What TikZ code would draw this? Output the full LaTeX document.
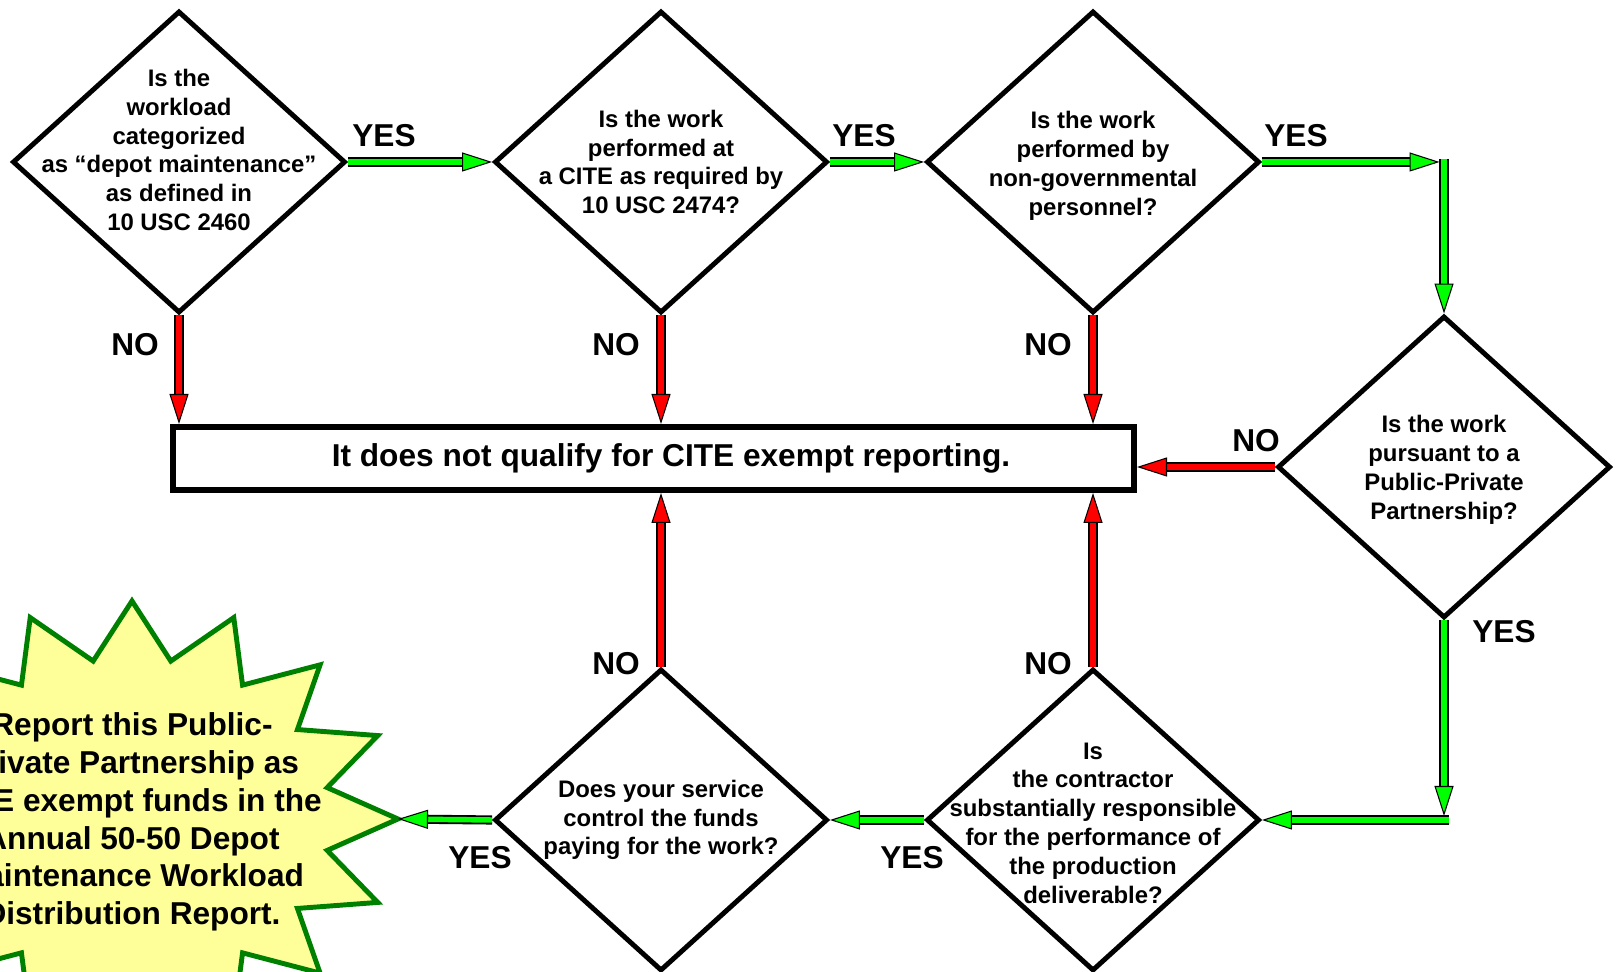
\documentclass[tikz,border=0pt]{standalone}
\usepackage{fontspec}
\setmainfont{Liberation Sans}
\usetikzlibrary{arrows.meta,positioning,shapes.geometric}
\definecolor{yesGreen}{RGB}{0,255,0}
\definecolor{noRed}{RGB}{255,0,0}
\definecolor{burstFill}{RGB}{255,255,153}
\definecolor{burstStroke}{RGB}{0,128,0}
\colorlet{ink}{black}
\tikzset{
  question/.style={
    diamond,
    draw=ink,
    line width=2.8pt,
    minimum width=6.66cm,
    minimum height=6.04cm,
    inner sep=0pt
  },
  qtext/.style={align=center, inner sep=0pt, font=\bfseries\fontsize{13.6}{16.4}\selectfont},
  verdictbox/.style={
    draw=ink,
    line width=3.4pt,
    minimum width=19.22cm,
    minimum height=1.26cm,
    font=\bfseries\fontsize{18}{21}\selectfont
  },
  answer/.style={font=\bfseries\fontsize{18}{21}\selectfont, inner sep=0pt},
  flow/.style={
    line width=3.1pt,
    draw=#1,
    preaction={draw=ink, -, line width=5.2pt, shorten >=0.4cm},
    -{Triangle[length=0.6cm, width=0.38cm, color=ink, fill=#1, line width=0.6pt]}
  },
  yesarrow/.style={flow=yesGreen},
  noarrow/.style={flow=noRed},
  burst/.style={draw=burstStroke, fill=burstFill, line width=2.8pt, line join=miter},
  bursttext/.style={align=center, inner sep=0pt, font=\bfseries\fontsize{18}{21.5}\selectfont}
}

\begin{document}
\begin{tikzpicture}[x=1cm,y=1cm]
  \clip (0,0) rectangle (32.4,19.44);

  % starburst
  \draw[burst] plot[samples at={0,...,31}, variable=\k]
    ({2.64+ifthenelse(mod(\k,2)==0,5.32,3.98)*cos(\k*11.25)},
     {3.06+ifthenelse(mod(\k,2)==0,4.36,3.22)*sin(\k*11.25)}) -- cycle;
  \node[bursttext] (report) at (2.64,3.0) {Report this Public-\\Private Partnership as\\CITE exempt funds in the\\Annual 50-50 Depot\\Maintenance Workload\\Distribution Report.};
  \coordinate (reportTip) at (7.96,3.06);

  \node[question, label={[qtext, yshift=0.24cm]center:{Is the\\workload\\categorized\\as “depot maintenance”\\as defined in\\10 USC 2460}}] (depot) at (3.58,16.2) {};
  \node[question, label={[qtext]center:{Is the work\\performed at\\a CITE as required by\\10 USC 2474?}}] (cite) at (13.22,16.2) {};
  \node[question, label={[qtext, yshift=-0.08cm]center:{Is the work\\performed by\\non-governmental\\personnel?}}] (personnel) at (21.86,16.2) {};
  \node[question, label={[qtext, yshift=-0.06cm]center:{Is the work\\pursuant to a\\Public-Private\\Partnership?}}] (ppp) at (28.88,10.1) {};
  \node[question, label={[qtext, yshift=-0.06cm]center:{Is\\the contractor\\substantially responsible\\for the performance of\\the production\\deliverable?}}] (responsible) at (21.86,3.04) {};
  \node[question, label={[qtext]center:{Does your service\\control the funds\\paying for the work?}}] (funds) at (13.22,3.04) {};

  \node[verdictbox] (verdict) at (13.07,10.27) {\hspace*{0.7cm}It does not qualify for CITE exempt reporting.};

  \coordinate (turnTop) at (ppp.north |- personnel.east);
  \coordinate (turnLow) at (ppp.south |- responsible.east);

  \draw[yesarrow] (depot.east) -- (cite.west);
  \draw[yesarrow] (cite.east) -- (personnel.west);
  \draw[yesarrow] (personnel.east) -- ([xshift=-0.09cm]turnTop);
  \draw[yesarrow] ([yshift=0.06cm]turnTop) -- (ppp.north);
  \draw[yesarrow] (ppp.south) -- ([yshift=0.08cm]turnLow);
  \draw[yesarrow] ([xshift=0.09cm]turnLow) -- (responsible.east);
  \draw[yesarrow] (responsible.west) -- (funds.east);
  \draw[yesarrow] (funds.west) -- (reportTip);

  \draw[noarrow] (depot.south) -- (depot.south |- verdict.north);
  \draw[noarrow] (cite.south) -- (cite.south |- verdict.north);
  \draw[noarrow] (personnel.south) -- (personnel.south |- verdict.north);
  \draw[noarrow] (ppp.west) -- (ppp.west -| verdict.east);
  \draw[noarrow] (responsible.north) -- (responsible.north |- verdict.south);
  \draw[noarrow] (funds.north) -- (funds.north |- verdict.south);

  \node[answer] (yesDepot) at (7.68,16.72) {YES};
  \node[answer] (yesCite) at (17.28,16.72) {YES};
  \node[answer] (yesPersonnel) at (25.92,16.72) {YES};
  \node[answer] (yesPpp) at (30.08,6.8) {YES};
  \node[answer] (yesResponsible) at (18.24,2.28) {YES};
  \node[answer] (yesFunds) at (9.6,2.28) {YES};
  \node[answer] (noDepot) at (2.7,12.54) {NO};
  \node[answer] (noCite) at (12.32,12.54) {NO};
  \node[answer] (noPersonnel) at (20.96,12.54) {NO};
  \node[answer] (noPpp) at (25.12,10.62) {NO};
  \node[answer] (noResponsible) at (20.96,6.16) {NO};
  \node[answer] (noFunds) at (12.32,6.16) {NO};
\end{tikzpicture}
\end{document}
